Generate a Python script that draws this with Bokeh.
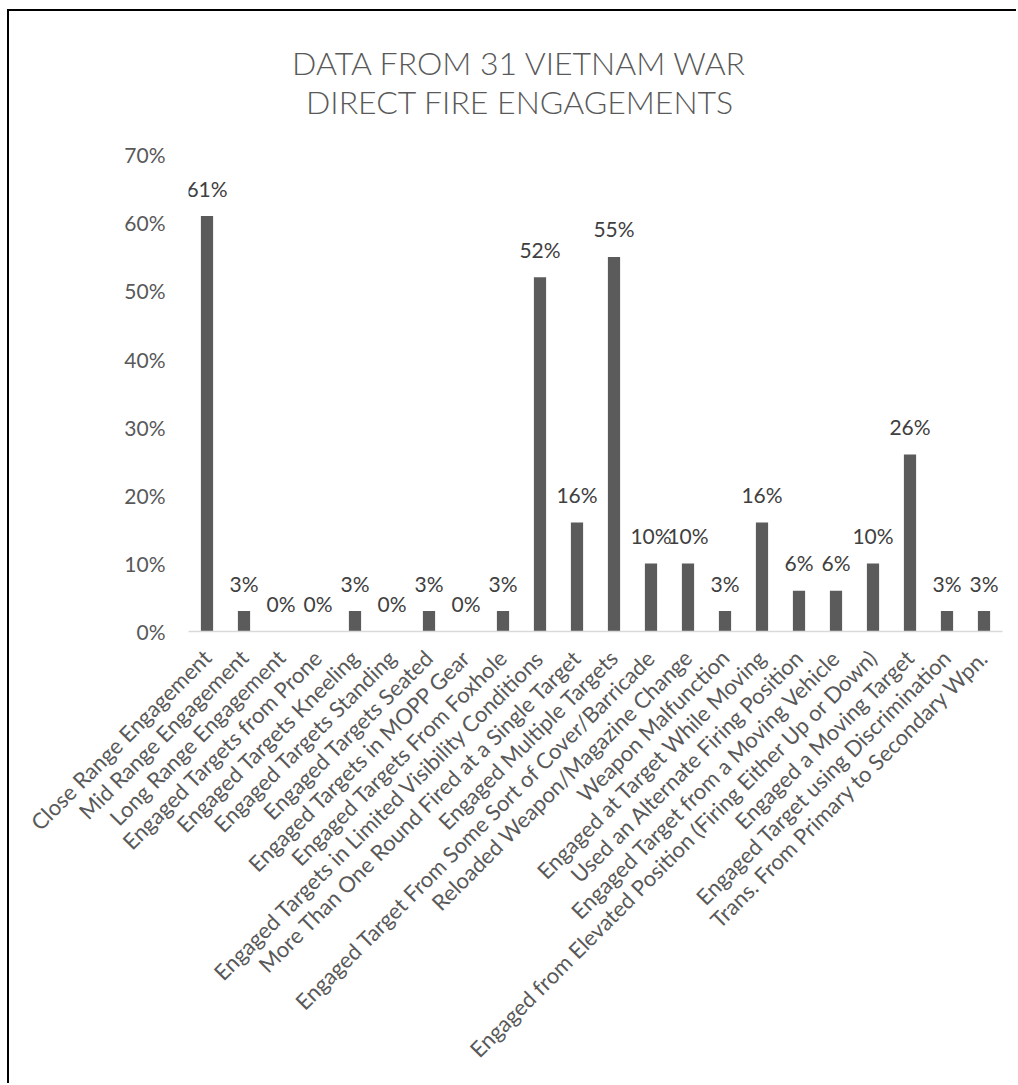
from math import pi
from bokeh.plotting import figure
from bokeh.models import ColumnDataSource, NumeralTickFormatter, FixedTicker
from bokeh.core.properties import value
from bokeh.embed import file_html
from bokeh.resources import INLINE

categories = [
    "Close Range Engagement",
    "Mid Range Engagement",
    "Long Range Engagement",
    "Engaged Targets from Prone",
    "Engaged Targets Kneeling",
    "Engaged Targets Standing",
    "Engaged Targets Seated",
    "Engaged Targets in MOPP Gear",
    "Engaged Targets From Foxhole",
    "Engaged Targets in Limited Visibility Conditions",
    "More Than One Round Fired at a Single Target",
    "Engaged Multiple Targets",
    "Engaged Target From Some Sort of Cover/Barricade",
    "Reloaded Weapon/Magazine Change",
    "Weapon Malfunction",
    "Engaged at Target While Moving",
    "Used an Alternate Firing Position",
    "Engaged Target from a Moving Vehicle",
    "Engaged from Elevated Position (Firing Either Up or Down)",
    "Engaged a Moving Target",
    "Engaged Target using Discrimination",
    "Trans. From Primary to Secondary Wpn.",
]
values = [0.61, 0.03, 0.00, 0.00, 0.03, 0.00, 0.03, 0.00, 0.03, 0.52, 0.16,
          0.55, 0.10, 0.10, 0.03, 0.16, 0.06, 0.06, 0.10, 0.26, 0.03, 0.03]
value_labels = [f"{round(v * 100)}%" for v in values]
y_ticks = [0.0, 0.1, 0.2, 0.3, 0.4, 0.5, 0.6, 0.7]
title_lines = ["DATA FROM 31 VIETNAM WAR", "DIRECT FIRE ENGAGEMENTS"]

FONT = "Lato"
TITLE_FONT = "Lato Light"
GREY = "#595959"

source = ColumnDataSource(dict(cat=categories, val=values, lab=value_labels))

# the frame reaches up to the top of the chart so that the two title lines
# can be drawn as text inside it; only 0-70% carry ticks
p = figure(
    x_range=categories, y_range=(0, 0.9),
    width=1009, height=1074,
    output_backend="svg", toolbar_location=None,
    title=None,
    min_border_left=179, min_border_right=16,
    min_border_top=7, min_border_bottom=454,
)
p.margin = (11, 0, 0, 9)
p.styles = {"box-shadow": "-2px -2px 0px 0px #000000"}

p.vbar(x="cat", top="val", width=0.33, source=source,
       fill_color="#5b5b5b", line_color=None)

p.text(x="cat", y="val", text="lab", source=source,
       text_align="center", text_baseline="alphabetic", y_offset=-28,
       text_font=value(FONT), text_font_size="21px", text_color="#404040")

title_src = ColumnDataSource(dict(x=[8.96, 8.96], y=[0.835, 0.778], t=title_lines))
p.text(x="x", y="y", text="t", source=title_src,
       text_align="center", text_baseline="alphabetic",
       text_font=value(TITLE_FONT), text_font_size="32px", text_color=GREY)

p.xgrid.visible = False
p.ygrid.visible = False
p.outline_line_color = None

p.xaxis.major_label_orientation = pi / 4
p.xaxis.major_tick_line_color = None
p.xaxis.major_tick_out = 0
p.xaxis.major_tick_in = 0
p.xaxis.axis_line_color = "#d9d9d9"
p.xaxis.axis_line_width = 1.5
p.xaxis.major_label_standoff = 22
p.xaxis.major_label_text_font = FONT
p.xaxis.major_label_text_font_size = "22px"
p.xaxis.major_label_text_color = GREY

p.yaxis.ticker = FixedTicker(ticks=y_ticks)
p.yaxis.formatter = NumeralTickFormatter(format="0%")
p.yaxis.axis_line_color = None
p.yaxis.major_tick_line_color = None
p.yaxis.minor_tick_line_color = None
p.yaxis.major_tick_out = 0
p.yaxis.major_tick_in = 0
p.yaxis.major_label_standoff = 23
p.yaxis.major_label_text_font = FONT
p.yaxis.major_label_text_font_size = "21px"
p.yaxis.major_label_text_color = GREY

open("out.html", "w").write(file_html(p, INLINE))
